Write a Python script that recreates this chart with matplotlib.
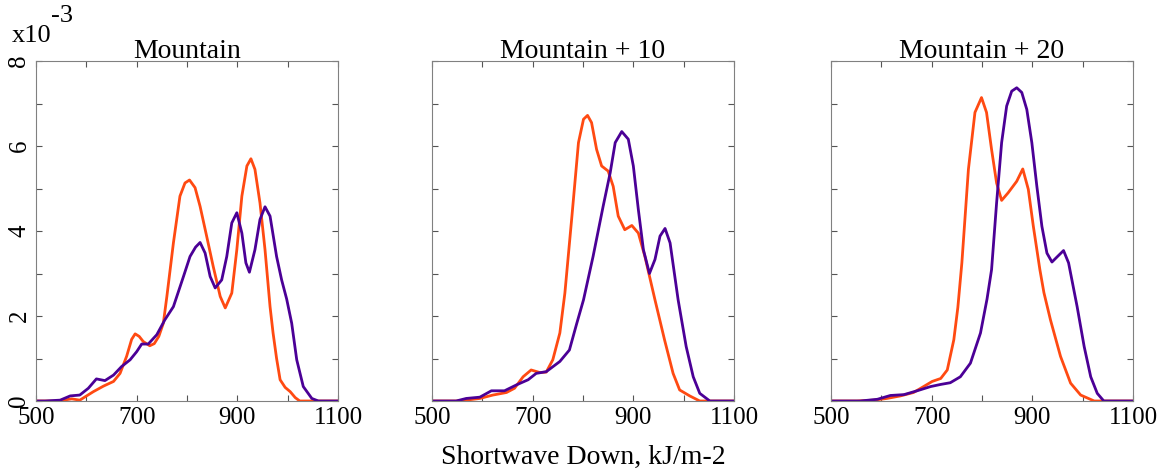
import numpy as np
import matplotlib
matplotlib.use('Agg')
import matplotlib.pyplot as plt

plt.rcParams['font.family'] = 'Liberation Serif'
plt.rcParams['font.size'] = 18

titles = ['Mountain', 'Mountain + 10', 'Mountain + 20']

# panel 1 (values in units of 1e-3)
x1_or = [500, 544, 571, 587, 614, 634, 654, 667, 680, 690, 697, 705, 713, 726, 735, 744, 753, 760, 773, 786, 796, 805, 816, 826, 839, 852, 866, 876, 889, 899, 909, 919, 927, 935, 945, 955, 965, 971, 978, 985, 995, 1005, 1015, 1024, 1100]
y1_or = [0, 0, 0.05, 0.02, 0.22, 0.35, 0.46, 0.65, 1.05, 1.45, 1.58, 1.52, 1.40, 1.30, 1.35, 1.52, 1.83, 2.46, 3.72, 4.82, 5.13, 5.20, 5.02, 4.58, 3.88, 3.17, 2.46, 2.19, 2.54, 3.56, 4.82, 5.53, 5.70, 5.45, 4.66, 3.56, 2.22, 1.60, 1.00, 0.50, 0.32, 0.22, 0.08, 0, 0]
x1_pu = [500, 518, 548, 568, 587, 604, 620, 637, 654, 670, 687, 700, 710, 723, 740, 756, 773, 793, 806, 817, 826, 836, 846, 856, 869, 879, 889, 899, 909, 917, 924, 935, 945, 955, 965, 978, 988, 998, 1008, 1018, 1031, 1048, 1061, 1100]
y1_pu = [0, 0, 0.02, 0.12, 0.14, 0.30, 0.52, 0.48, 0.61, 0.81, 0.97, 1.16, 1.34, 1.34, 1.56, 1.91, 2.22, 2.93, 3.40, 3.62, 3.73, 3.48, 2.93, 2.66, 2.85, 3.40, 4.19, 4.43, 3.95, 3.25, 3.03, 3.56, 4.27, 4.57, 4.35, 3.40, 2.85, 2.40, 1.83, 0.97, 0.34, 0.06, 0, 0]

# panel 2
x2_or = [500, 548, 568, 595, 621, 648, 664, 681, 697, 714, 727, 740, 754, 764, 778, 791, 801, 809, 817, 827, 837, 850, 860, 870, 883, 897, 910, 923, 943, 962, 979, 992, 1012, 1032, 1100]
y2_or = [0, 0, 0.02, 0.06, 0.14, 0.20, 0.30, 0.57, 0.73, 0.67, 0.68, 0.97, 1.60, 2.54, 4.35, 6.08, 6.63, 6.72, 6.55, 5.92, 5.53, 5.41, 5.05, 4.35, 4.03, 4.13, 3.95, 3.40, 2.38, 1.44, 0.65, 0.26, 0.12, 0, 0]
x2_pu = [500, 522, 548, 568, 595, 618, 644, 668, 691, 707, 727, 754, 773, 787, 801, 820, 840, 854, 864, 877, 890, 900, 910, 920, 932, 943, 953, 963, 973, 989, 1005, 1019, 1032, 1052, 1100]
y2_pu = [0, 0, 0, 0.06, 0.09, 0.24, 0.24, 0.38, 0.50, 0.65, 0.69, 0.93, 1.20, 1.80, 2.38, 3.40, 4.58, 5.37, 6.08, 6.34, 6.16, 5.53, 4.50, 3.56, 3.00, 3.33, 3.88, 4.06, 3.72, 2.38, 1.28, 0.57, 0.18, 0, 0]

# panel 3
x3_or = [500, 552, 585, 611, 638, 664, 684, 701, 718, 731, 744, 752, 760, 773, 786, 799, 809, 819, 829, 839, 852, 869, 881, 892, 902, 915, 923, 936, 956, 976, 996, 1023, 1100]
y3_or = [0, 0, 0.02, 0.06, 0.12, 0.20, 0.34, 0.46, 0.53, 0.73, 1.44, 2.20, 3.25, 5.45, 6.79, 7.14, 6.79, 5.92, 5.13, 4.72, 4.90, 5.17, 5.46, 4.98, 4.11, 3.09, 2.55, 1.91, 1.05, 0.42, 0.14, 0, 0]
x3_pu = [500, 519, 558, 592, 618, 645, 671, 698, 718, 737, 757, 777, 797, 810, 819, 829, 839, 849, 859, 869, 879, 889, 899, 909, 919, 929, 939, 950, 962, 972, 989, 1003, 1016, 1029, 1042, 1100]
y3_pu = [0, 0, 0, 0.04, 0.13, 0.15, 0.24, 0.34, 0.39, 0.43, 0.57, 0.89, 1.60, 2.40, 3.09, 4.66, 6.08, 6.94, 7.29, 7.37, 7.26, 6.86, 6.08, 5.05, 4.11, 3.48, 3.27, 3.40, 3.54, 3.25, 2.22, 1.28, 0.57, 0.18, 0, 0]

data = [(x1_or, y1_or, x1_pu, y1_pu),
        (x2_or, y2_or, x2_pu, y2_pu),
        (x3_or, y3_or, x3_pu, y3_pu)]

orange = '#ff4a12'
purple = '#4b0096'
lefts = [36/1168, 432/1168, 831/1168]

fig = plt.figure(figsize=(11.68, 4.70), dpi=100)
for i in range(3):
    ax = fig.add_axes([lefts[i], 69/470, 302/1168, 340/470])
    xo, yo, xp, yp = data[i]
    ax.plot(xo, np.array(yo)*1e-3, '-', color=orange, lw=2, solid_joinstyle='round')
    ax.plot(xp, np.array(yp)*1e-3, '-', color=purple, lw=2, solid_joinstyle='round')
    ax.set_xlim(500, 1100)
    ax.set_ylim(0, 8e-3)
    ax.set_xticks(np.arange(500, 1101, 100))
    ax.set_xticklabels(['500', '', '700', '', '900', '', '1100'])
    ax.set_yticks(np.arange(0, 8.01e-3, 1e-3))
    if i == 0:
        ax.set_yticklabels(['0', '', '2', '', '4', '', '6', '', '8'], rotation=90, va='center')
    else:
        ax.set_yticklabels([])
    ax.tick_params(direction='in', top=True, right=True, length=4, color='#555555', pad=4)
    for s in ax.spines.values():
        s.set_color('#808080')
    ax.set_title(titles[i], fontsize=20, pad=2)
    if i == 1:
        ax.set_xlabel('Shortwave Down, kJ/m-2', fontsize=20, labelpad=12)

fig.text(12/1168, 1 - 42/470, 'x10', fontsize=19, va='baseline')
fig.text(51/1168, 1 - 22/470, '-3', fontsize=19, va='baseline')
plt.savefig('out.png', dpi=100)
